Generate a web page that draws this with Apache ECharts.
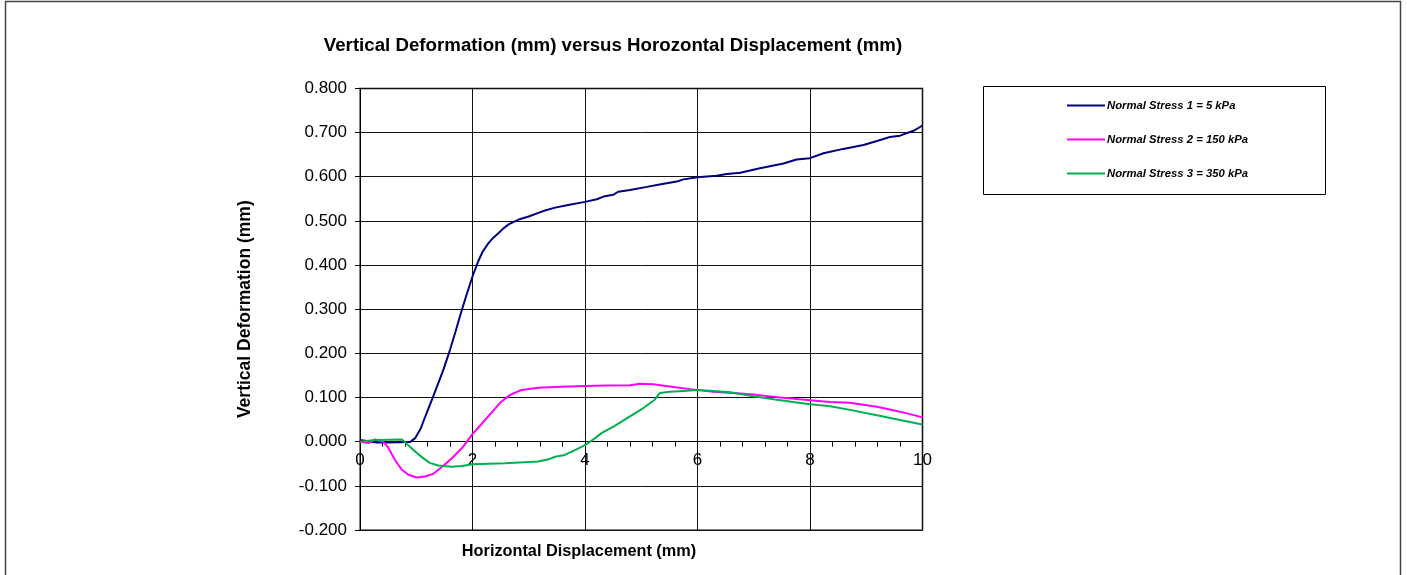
<!DOCTYPE html>
<html>
<head>
<meta charset="utf-8">
<script src="https://cdn.jsdelivr.net/npm/echarts@6/dist/echarts.min.js"></script>
<style>
html,body{margin:0;padding:0;background:#fff;}
#c{width:1407px;height:575px;}
</style>
</head>
<body>
<div id="c"></div>
<script>
const chartTitle = 'Vertical Deformation (mm) versus Horozontal Displacement (mm)';
const xName = 'Horizontal Displacement (mm)';
const yName = 'Vertical Deformation (mm)';
const seriesNames = ['Normal Stress 1 = 5 kPa', 'Normal Stress 2 = 150 kPa', 'Normal Stress 3 = 350 kPa'];

const stress1 = [[0,0.004],[0.3,-0.002],[0.5,-0.002],[0.89,-0.001],[0.98,0.008],[1.08,0.03],[1.16,0.057],[1.30,0.102],[1.48,0.162],[1.60,0.208],[1.70,0.250],[1.81,0.298],[1.90,0.335],[2.0,0.374],[2.10,0.408],[2.18,0.430],[2.28,0.449],[2.37,0.462],[2.46,0.472],[2.55,0.483],[2.64,0.492],[2.82,0.503],[3.0,0.510],[3.17,0.518],[3.30,0.524],[3.47,0.530],[3.7,0.536],[4.0,0.543],[4.21,0.549],[4.33,0.555],[4.50,0.559],[4.59,0.566],[4.8,0.570],[5.10,0.577],[5.35,0.583],[5.63,0.589],[5.75,0.594],[6.0,0.599],[6.34,0.602],[6.52,0.606],[6.76,0.609],[7.11,0.619],[7.53,0.630],[7.76,0.639],[8.0,0.642],[8.24,0.653],[8.59,0.663],[8.95,0.672],[9.19,0.681],[9.42,0.690],[9.60,0.693],[9.84,0.704],[10.0,0.716]];

const stress2 = [[0,0],[0.15,-0.003],[0.27,0.005],[0.41,0.0],[0.5,-0.013],[0.62,-0.041],[0.74,-0.063],[0.86,-0.075],[1.01,-0.081],[1.16,-0.079],[1.30,-0.073],[1.45,-0.058],[1.63,-0.038],[1.81,-0.015],[2.0,0.017],[2.16,0.040],[2.34,0.066],[2.49,0.088],[2.67,0.106],[2.87,0.117],[3.17,0.122],[3.47,0.124],[4.0,0.126],[4.39,0.127],[4.80,0.128],[4.98,0.131],[5.21,0.130],[5.57,0.124],[5.87,0.119],[6.28,0.113],[6.76,0.109],[7.05,0.106],[7.47,0.100],[8.0,0.094],[8.36,0.090],[8.71,0.088],[9.19,0.079],[9.60,0.068],[10.0,0.055]];

const stress3 = [[0,0],[0.27,0.004],[0.74,0.005],[0.80,-0.001],[0.95,-0.019],[1.10,-0.035],[1.24,-0.048],[1.39,-0.054],[1.63,-0.057],[1.81,-0.055],[2.0,-0.051],[2.58,-0.049],[3.17,-0.045],[3.35,-0.040],[3.47,-0.034],[3.64,-0.030],[3.82,-0.019],[4.0,-0.008],[4.18,0.008],[4.30,0.020],[4.53,0.036],[4.77,0.055],[5.0,0.073],[5.24,0.095],[5.33,0.110],[5.51,0.113],[5.75,0.115],[6.0,0.117],[6.28,0.115],[6.58,0.112],[6.99,0.103],[7.35,0.096],[7.70,0.090],[8.0,0.085],[8.36,0.080],[8.71,0.072],[9.19,0.060],[9.60,0.049],[10.0,0.039]];

const colors = ['#000080', '#FF00FF', '#00B050'];
const FONT = 'Liberation Sans, Arial, sans-serif';

const chart = echarts.init(document.getElementById('c'), null, {renderer: 'canvas'});
const seriesData = [stress1, stress2, stress3];

const gridTop = 88.4, gridBottom = 45, chartH = 575;
const plotH = chartH - gridTop - gridBottom;
const yMin = -0.2, yMax = 0.8;
// move x axis up to value 0 (computed via the y scale range)
const zeroOffset = -plotH * (0 - yMin) / (yMax - yMin);

chart.setOption({
  animation: false,
  backgroundColor: '#fff',
  title: {
    text: chartTitle, left: 608, top: 31, textAlign: 'center',
    textStyle: {fontFamily: FONT, fontSize: 18.7, fontWeight: 'bold', color: '#000'}
  },
  grid: {left: 360, right: 484.5, top: gridTop, bottom: gridBottom, show: true, borderColor: '#808080', borderWidth: 2, backgroundColor: 'transparent'},
  legend: {
    orient: 'vertical', left: 1062, top: 95, itemGap: 23, itemWidth: 38, itemHeight: 12,
    icon: 'path://M0,5 L38,5 L38,7 L0,7 Z',
    textStyle: {fontFamily: FONT, fontSize: 11.3, fontWeight: 'bold', fontStyle: 'italic', color: '#000', padding: [0,0,0,-3]},
    data: seriesNames
  },
  xAxis: {
    type: 'value', min: 0, max: 10, interval: 2, position: 'bottom', offset: zeroOffset,
    axisLine: {onZero: false, lineStyle: {color: '#000', width: 1}},
    axisTick: {show: true, inside: false, length: 5, lineStyle: {color: '#000'}},
    minorTick: {show: true, splitNumber: 5, length: 5, lineStyle: {color: '#000'}},
    axisLabel: {fontFamily: FONT, fontSize: 17, color: '#000', margin: 10},
    splitLine: {show: true, lineStyle: {color: '#111', width: 1}}
  },
  yAxis: {
    type: 'value', min: yMin, max: yMax, interval: 0.1,
    name: yName, nameLocation: 'middle', nameGap: 106,
    nameTextStyle: {fontFamily: FONT, fontSize: 17.5, fontWeight: 'bold', color: '#000'},
    axisLine: {show: true, lineStyle: {color: '#000', width: 1}},
    axisTick: {show: true, inside: false, length: 5, lineStyle: {color: '#000'}},
    axisLabel: {fontFamily: FONT, fontSize: 17, color: '#000', margin: 13, formatter: v => v.toFixed(3)},
    splitLine: {show: true, lineStyle: {color: '#111', width: 1}}
  },
  graphic: [
    {type: 'rect', shape: {x: 5.5, y: 1.5, width: 1395, height: 600}, style: {fill: 'none', stroke: '#444', lineWidth: 1.5}, z: 100},
    {type: 'rect', shape: {x: 983.5, y: 86.5, width: 342, height: 108}, style: {fill: 'none', stroke: '#000', lineWidth: 1}, z: 100},
    {type: 'text', x: 579, y: 552, style: {text: xName, textAlign: 'center', textVerticalAlign: 'middle', fill: '#000', font: 'bold 16.3px ' + FONT}, z: 100}
  ],
  series: seriesData.map((d, i) => ({
    name: seriesNames[i], type: 'line', data: d, showSymbol: false, smooth: false,
    lineStyle: {color: colors[i], width: 2}, itemStyle: {color: colors[i]}
  }))
});
</script>
</body>
</html>
